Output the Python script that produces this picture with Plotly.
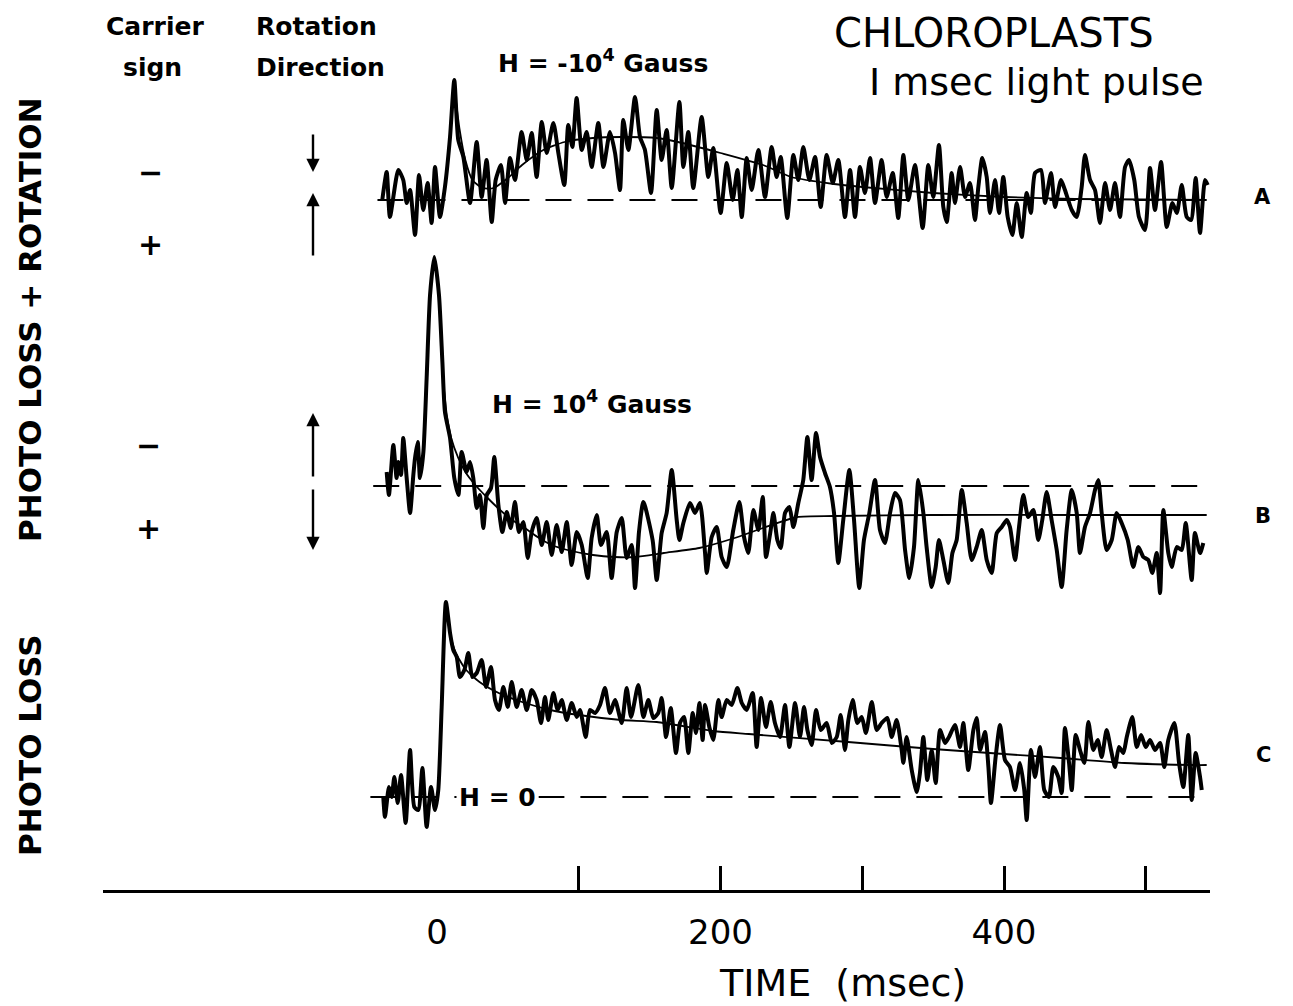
import plotly.graph_objects as go

# ---------------- data (time in msec, deflection in arbitrary units) ----------------
A_t = [-38.6, -35.5, -33.2, -27.3, -23.8, -21.4, -19.0, -15.5, -12.7, -9.7,
       -6.6, -3.8, -1.4, 2.1, 5.6, 9.2, 12.2, 15.0, 18.6, 23.3,
       28.0, 31.5, 35.0, 38.6, 41.4, 45.1, 48.0, 51.5, 55.0, 59.7,
       63.3, 66.8, 70.3, 73.9, 77.4, 82.1, 85.6, 89.8, 92.6, 95.5,
       98.5, 102.1, 105.6, 109.1, 113.8, 117.4, 122.0, 125.6, 129.1, 131.4,
       135.0, 139.7, 143.2, 146.7, 151.0,
       155.0, 158.5, 162.0, 165.6, 171.0, 173.8, 177.3, 180.8, 186.7, 191.4,
       194.9, 200.1, 204.4, 208.6, 211.9, 215.0, 218.5, 222.0, 226.7, 231.4,
       236.1, 239.6, 242.5, 247.1, 251.4, 254.9, 258.4, 262.7, 266.7, 270.7,
       274.9, 279.2, 283.1, 287.8, 291.4, 294.9, 298.4, 301.9, 305.5, 309.0,
       313.7, 317.2, 321.5, 325.4, 329.0, 332.5, 337.2, 342.6, 346.6, 350.1,
       354.1, 357.2, 359.6, 363.1, 365.4, 369.0, 372.5, 376.0, 379.5, 381.9,
       384.7, 387.8, 390.1, 393.7, 396.5, 399.5, 402.6, 405.9, 409.0, 412.5,
       416.0, 419.0, 421.9, 426.1, 428.9, 433.2, 436.0, 440.2, 443.0, 447.8,
       451.3, 454.8, 457.1, 460.7, 464.2, 467.7, 471.3, 474.8, 478.3, 481.8,
       485.4, 488.2, 491.9, 495.2, 499.5, 503.0, 506.5, 510.8, 514.8, 518.8,
       521.9, 525.4, 528.9, 532.0, 535.2, 538.3, 541.8, 543.7]
A_v = [0, 28, -17, 30, 20, -3, 10, -35, 25, -10,
       17, -23, 33, -17, 13, 63, 120, 60, 43, -3,
       58, 3, 40, -22, 20, 35, -3, 42, 20, 68,
       40, 67, 23, 78, 47, 77, 47, 15, 75, 53,
       102, 50, 68, 33, 77, 33, 68, 47, 10, 80,
       50, 103, 63, 50, 7,
       90, 40, 70, 12, 98, 33, 68, 12, 83, 23,
       52, -13, 37, 0, 30, -17, 42, 10, 50, 3,
       53, 23, 43, -18, 45, 20, 53, 20, 43, -7,
       45, 17, 40, -17, 30, -17, 33, 7, 42, -3,
       40, 3, 27, -18, 45, 0, 35, -28, 35, 3,
       55, -7, -22, 27, -3, 33, 3, 17, -20, 13,
       42, 23, -13, 20, -13, 23, -17, -35, -3, -37,
       7, -13, 27, 30, -3, 27, -7, 20, 10, -10,
       -17, 13, 45, 20, 10, -23, 17, -10, 17, -17,
       33, 40, 20, -17, -30, 32, -10, 38, -27, -3,
       -13, 15, -17, -20, 22, -33, 20, 15]

B_t = [-35.5, -33.9, -30.8, -28.5, -27.3, -25.4, -23.8, -21.4, -19.0, -16.7,
       -15.5, -13.6, -12.0, -9.6, -7.3, -4.9, -1.9, 1.4, 3.8, 5.6,
       9.2, 12.2, 15.1, 17.4, 20.9, 23.3, 25.6, 28.0, 30.3, 32.7,
       35.1, 38.1, 40.4, 43.3, 46.1, 49.2, 52.0, 55.0, 57.8, 60.9,
       64.0, 66.8, 70.3, 73.9, 77.4, 80.9, 84.4, 88.0, 91.5, 95.0,
       98.6, 102.1, 106.3, 109.1, 112.7, 115.7, 119.7, 123.2, 126.8, 130.3,
       133.8, 137.4, 139.7, 142.5, 145.6,
       152.1, 155.0, 158.5, 162.0, 165.6, 169.1, 171.0, 173.8, 178.5, 182.0,
       185.5, 189.1, 190.3, 193.8, 197.3, 200.8, 204.4, 209.0, 213.3, 216.6,
       219.6, 223.2, 226.7, 229.8, 232.1, 235.4, 237.3, 240.1, 242.5, 245.5,
       248.6, 251.4, 254.9, 258.4, 261.3, 264.3, 267.4, 270.2, 273.7, 277.2,
       280.1, 283.1, 286.6, 290.9, 294.2, 297.9, 301.2, 305.0, 309.0, 312.5,
       316.0, 319.6, 323.1, 326.6, 330.2, 333.2, 336.5, 339.6, 343.1,
       345.4, 349.0, 351.8, 354.1, 357.2, 360.7, 363.6, 366.6, 370.2, 373.7,
       377.2, 380.7, 384.3, 387.8, 391.3, 394.9, 398.4, 401.9, 404.2, 407.8,
       410.6, 413.6, 417.1, 420.7, 424.2, 427.0, 430.1, 433.6, 437.2, 440.7,
       444.2, 447.8, 451.3, 453.6, 457.1, 460.7, 464.2, 466.5, 468.9, 472.4,
       476.0, 479.5, 483.0, 487.3, 491.2, 494.8, 498.3, 501.8, 504.6, 507.7,
       510.1, 512.4, 515.9, 518.3, 521.9, 525.4, 528.2, 532.4, 534.7, 538.3,
       540.6]
B_v = [14, -9, 41, 8, 24, 11, 48, 8, -27, 11,
       28, 44, 8, 34, 108, 191, 229, 191, 124, 74,
       48, 8, -9, 34, 14, 24, 8, -22, -9, -42,
       -9, -2, 29, -19, -46, -26, -42, -16, -46, -36,
       -72, -46, -32, -59, -36, -69, -39, -66, -36, -79,
       -46, -59, -92, -52, -29, -59, -46, -92, -46, -32,
       -72, -59, -102, -46, -16,
       -54, -94, -47, -27, 16, -34, -54, -37, -17, -27,
       -17, -67, -87, -51, -41, -71, -81, -44, -16, -51,
       -67, -24, -44, -11, -71, -44, -27, -54, -62, -27,
       -21, -41, -17, 6, 49, 6, 53, 29, 13, -1,
       -27, -77, -34, 16, -34, -102, -54, -27, 6, -44,
       -57, -27, -7, -14, -64, -92, -61, 6, -27,
       -61, -101, -81, -54, -74, -97, -67, -54, -4, -37,
       -74, -61, -44, -74, -87, -47, -41, -34, -41, -74,
       -41, -9, -31, -24, -54, -34, -6, -34, -64, -101,
       -44, -4, -27, -67, -41, -27, -4, 6, -27, -64,
       -54, -27, -37, -54, -81, -61, -71, -74, -87, -67,
       -107, -24, -67, -81, -61, -64, -37, -94, -47, -67,
       -57]

C_t = [-37.9, -36.7, -33.9, -32.0, -30.1, -27.7, -25.4, -22.1, -19.0, -16.0,
       -13.2, -10.3, -7.3, -4.2, -1.4, 0.9, 3.3, 6.3, 9.2, 11.5,
       13.9, 16.2, 19.3, 22.1, 24.9, 28.0, 31.5, 34.6, 38.1, 40.9,
       43.7, 46.8, 49.9, 52.7, 56.2, 59.7, 63.3, 66.8, 70.3, 73.4,
       76.2, 78.5, 82.1, 85.1, 88.0, 91.5, 95.0, 98.6, 100.9, 104.9,
       107.9, 111.5, 115.0, 118.5, 122.0, 125.6, 130.3, 133.8, 136.9, 142.0,
       145.6, 149.1, 152.6, 156.1,
       158.5, 161.6, 164.9, 168.6, 171.4, 174.3, 177.3, 180.4, 182.7, 185.1,
       187.4, 189.1, 192.1, 194.9, 198.5, 200.8, 204.4, 207.9, 211.9, 215.0,
       218.5, 222.7, 225.5, 228.6, 232.1, 235.4, 238.4, 242.0, 245.5, 248.6,
       252.6, 256.1, 258.9, 261.3, 264.3, 267.4, 270.7, 274.9, 278.5, 282.0,
       284.8, 287.8, 290.2, 293.3, 296.5, 299.6, 302.6, 306.7, 310.2, 313.7,
       317.7, 320.8, 324.3, 327.8, 329.0, 331.3, 334.9, 338.4, 340.7, 343.1,
       345.9, 349.0,
       351.8, 354.9, 358.4, 361.2, 365.4, 369.0, 371.3, 374.8, 378.4, 380.7,
       383.1, 386.6, 389.0, 390.8, 394.1, 397.2, 400.7, 404.2, 407.8, 411.3,
       414.3, 416.0, 419.0, 421.9, 425.4, 428.4, 431.7, 434.8, 438.3, 440.7,
       443.0, 445.9, 447.8, 450.6, 453.6, 456.7, 459.5, 463.0, 466.1, 468.9,
       472.4, 475.5, 478.3, 481.1, 484.2, 486.6, 490.5, 493.6, 496.7, 500.0,
       503.0, 506.5, 510.1, 513.1, 515.9, 520.2, 523.5, 526.5, 530.0, 532.4,
       535.2, 538.3, 539.5]
C_v = [0, -20, 10, 0, 20, -6, 22, -26, 47, -10,
       -13, 29, -30, 10, -13, 7, 90, 195, 164, 147,
       140, 120, 127, 144, 120, 124, 137, 110, 130, 97,
       87, 110, 90, 115, 90, 107, 87, 107, 97, 74,
       100, 77, 104, 87, 97, 77, 94, 80, 87, 60,
       87, 84, 92, 109, 84, 97, 74, 109, 80, 112,
       80, 97, 79, 84,
       99, 60, 89, 44, 74, 80, 44, 84, 64, 94,
       57, 92, 70, 57, 97, 80, 97, 92, 109, 94,
       87, 104, 50, 99, 70, 95, 74, 60, 92, 50,
       94, 60, 90, 67, 52, 87, 67, 74, 54, 60,
       82, 47, 77, 97, 74, 80, 64, 95, 67, 74,
       79, 60, 77, 47, 34, 60, 27, 5, 24, 60,
       17, 47,
       14, 67, 54, 60, 72, 50, 74, 27, 67, 79,
       47, 65, 30, -6, 40, 72, 37, 30, 7, 34,
       7, -23, 47, 20, 50, 7, 0, 30, 20, 4,
       69, 34, 7, 62, 47, 34, 75, 47, 57, 40,
       67, 47, 30, 50, 44, 60, 80, 50, 62, 50,
       57, 47, 54, 30, 57, 74, 34, 10, 62, -3,
       44, 20, 7]

# smooth fitted curves
A_fit_t = [12, 16, 20, 25, 32, 40, 50, 60, 75, 90, 110, 130, 155, 170, 200, 230, 250, 280, 300, 350, 400, 450, 543]
A_fit_v = [115, 70, 40, 20, 12, 12, 22, 35, 50, 58, 62, 63, 62, 58, 47, 35, 23, 16, 13, 7, 3, 1, 0]
B_fit_t = [4, 7, 10, 15, 20, 27, 35, 43, 52, 62, 72, 81, 95, 110, 125, 140, 160, 185, 210, 230, 254, 280, 350, 450, 543]
B_fit_v = [110, 70, 48, 28, 14, 1, -11, -22, -33, -42, -52, -59, -65, -69, -71, -71, -67, -62, -52, -42, -31, -30, -29, -29, -29]
C_fit_t = [6.3, 9, 13, 20, 30, 45, 60, 80, 100, 130, 155, 195, 220, 290, 350, 400, 440, 485, 535, 543]
C_fit_v = [195, 165, 145, 128, 115, 103, 95, 87, 82, 77, 75, 66, 63, 55, 48, 43, 39, 34, 32, 32]

# zero (dashed) reference lines
A_zero_t = [-42, 542]
B_zero_t = [-45, 538]
C_zero_t = [-47, 538]

TICK_MARKS = [100, 200, 300, 400, 500]
TICK_LABEL_VALS = [0, 200, 400]
TICK_LABELS = ["0", "200", "400"]

for a, b in [(A_t, A_v), (B_t, B_v), (C_t, C_v), (A_fit_t, A_fit_v), (B_fit_t, B_fit_v), (C_fit_t, C_fit_v)]:
    assert len(a) == len(b), (len(a), len(b))

# ---------------- layout constants ----------------
# the page places the figure 8 px from the top-left corner (default body margin)
PAGE_W, PAGE_H, BODY = 1293, 1006, 8
W, H = PAGE_W - BODY, PAGE_H - BODY
PLOT_L, PLOT_R, PLOT_T, PLOT_B = 103, 1210, 8, 890   # plot area in page pixels
ML, MR, MT, MB = PLOT_L - BODY, PAGE_W - PLOT_R, PLOT_T - BODY, PAGE_H - PLOT_B
PX_PER_MS = 1.4175
X0_PX = 437
XR = [(PLOT_L - X0_PX) / PX_PER_MS, (PLOT_R - X0_PX) / PX_PER_MS]
YR = [-PLOT_B, -PLOT_T]
OFF_A, OFF_B, OFF_C = 200, 486, 797   # vertical position of each record's zero line
FONT = "DejaVu Sans"


def pp(x, y):
    return (x - PLOT_L) / (PLOT_R - PLOT_L), (PLOT_B - y) / (PLOT_B - PLOT_T)


fig = go.Figure()

def add_record(t, v, off, width, dash=None, shape="linear", xaxis="x"):
    fig.add_trace(go.Scatter(x=t, y=[val - off for val in v], mode="lines", xaxis=xaxis,
                             line=dict(color="black", width=width, dash=dash,
                                       shape=shape, smoothing=0.6 if shape == "spline" else None),
                             showlegend=False, hoverinfo="skip"))

DASH = "26px,16px"
add_record(A_zero_t, [0, 0], OFF_A, 2, DASH)
add_record(B_zero_t, [0, 0], OFF_B, 2, DASH)
add_record(C_zero_t, [0, 0], OFF_C, 2, DASH, xaxis="x2")   # also carries the tick-mark axis
add_record(A_fit_t, A_fit_v, OFF_A, 1.8, shape="spline")
add_record(B_fit_t, B_fit_v, OFF_B, 1.8, shape="spline")
add_record(C_fit_t, C_fit_v, OFF_C, 1.8, shape="spline")
add_record(A_t, A_v, OFF_A, 4, shape="spline")
add_record(B_t, B_v, OFF_B, 4, shape="spline")
add_record(C_t, C_v, OFF_C, 4, shape="spline")

ann = []

def text(s, x, y, size, bold=False, angle=0, bg=None, xanchor="center"):
    px_, py_ = pp(x, y)
    d = dict(text=s, x=px_, y=py_, xref="paper", yref="paper", showarrow=False,
             xanchor=xanchor, yanchor="middle", textangle=angle,
             font=dict(family=FONT, size=size, color="black", weight="bold" if bold else "normal"))
    if bg:
        d["bgcolor"] = bg
        d["borderpad"] = 2
    ann.append(d)

def arrow(x, y_head, y_tail):
    px_, py_ = pp(x, y_head)
    ann.append(dict(text="", x=px_, y=py_, xref="paper", yref="paper", showarrow=True,
                    ax=0, ay=y_tail - y_head, arrowhead=2, arrowsize=1.1, arrowwidth=2.4,
                    arrowcolor="black"))

text("Carrier", 155, 27, 25, True)
text("sign", 152, 67, 25, True)
text("Rotation", 316, 27, 25, True)
text("Direction", 320, 67, 25, True)
text("H = -10<sup>4</sup> Gauss", 603, 62, 25, True)
text("H = 10<sup>4</sup> Gauss", 592, 402, 25, True)
text("CHLOROPLASTS", 994, 33, 40)
text("I msec light pulse", 1036, 82, 38)
text("A", 1262, 197, 21, True)
text("B", 1263, 516, 21, True)
text("C", 1263, 755, 21, True)
text("−", 150, 172, 30, True)
text("+", 150, 245, 30, True)
text("−", 148, 445, 30, True)
text("+", 148, 528, 30, True)
text("PHOTO LOSS + ROTATION", 30, 320, 31, True, -90)
text("PHOTO LOSS", 30, 745, 31, True, -90)
text("H = 0", 497, 797, 25, True, bg="white")
text("TIME  (msec)", 842, 983, 38)

arrow(313, 172, 133)
arrow(313, 193, 257)
arrow(313, 413, 478)
arrow(313, 550, 488)

fig.update_layout(
    width=W, height=H,
    margin=dict(l=ML, r=MR, t=MT, b=MB, pad=0),
    paper_bgcolor="white", plot_bgcolor="white",
    showlegend=False,
    annotations=ann,
    xaxis=dict(range=XR, showgrid=False, zeroline=False, showline=True,
               linecolor="black", linewidth=3, ticks="",
               tickvals=TICK_LABEL_VALS, ticktext=TICK_LABELS,
               tickfont=dict(family=FONT, size=34, color="black"),
               ticklabelstandoff=10, fixedrange=True),
    xaxis2=dict(range=XR, overlaying="x", anchor="y", side="bottom",
                showgrid=False, zeroline=False, showline=False,
                tickvals=TICK_MARKS, ticks="inside", ticklen=24, tickwidth=3,
                tickcolor="black", showticklabels=False, fixedrange=True),
    yaxis=dict(range=YR, visible=False, showgrid=False, zeroline=False, fixedrange=True),
)

fig.write_html("out.html")
